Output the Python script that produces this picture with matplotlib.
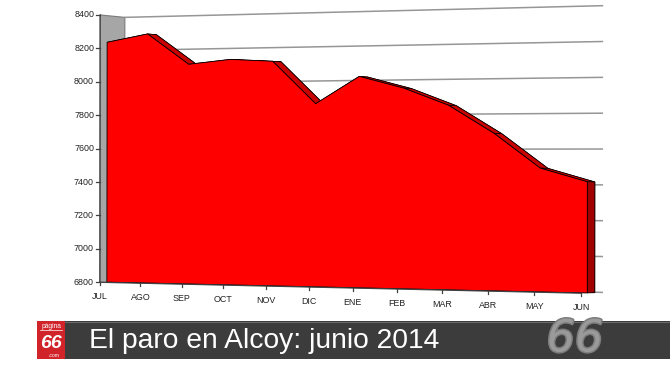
import numpy as np
import matplotlib
matplotlib.use("Agg")
import matplotlib.pyplot as plt
from matplotlib.patches import Polygon, Rectangle
import matplotlib.patheffects as pe

# ---------------- data ----------------
months = ["JUL", "AGO", "SEP", "OCT", "NOV", "DIC",
          "ENE", "FEB", "MAR", "ABR", "MAY", "JUN"]
paro = [8240, 8285, 8100, 8125, 8110, 7860, 8015, 7945, 7845, 7685, 7490, 7415]
value_ticks = [6800, 7000, 7200, 7400, 7600, 7800, 8000, 8200, 8400]
title = "El paro en Alcoy: junio 2014"
logo_top, logo_mid, logo_bot = "página", "66", ".com"
brand = "66"

VMIN, VMAX = value_ticks[0], value_ticks[-1]
N = len(months)

# ------------- 3-D perspective (layout of the chart box) -------------
# unit box: u = category (0..1), v = value (0..1), w = depth (0 front .. 1 back)
box_3d = np.array([[0, 0, 0], [0, 1, 0], [0, 0, 1], [0, 1, 1],
                   [1, 0, 1], [1, 1, 1], [1, 0, 0], [1, 1, 0], [5 / 11, 0, 0]], float)
box_2d = np.array([[100, 281], [100, 15], [125, 283], [125, 17],
                   [602, 292], [602, 5], [582, 293], [582, 4], [308, 287.5]], float)


def fit_camera(p3, p2):
    rows = []
    for (X, Y, Z), (x, y) in zip(p3, p2 / 100.0):
        rows.append([X, Y, Z, 1, 0, 0, 0, 0, -x * X, -x * Y, -x * Z, -x])
        rows.append([0, 0, 0, 0, X, Y, Z, 1, -y * X, -y * Y, -y * Z, -y])
    _, _, vt = np.linalg.svd(np.array(rows))
    return vt[-1].reshape(3, 4)


P = fit_camera(box_3d, box_2d)


def project(u, v, w):
    u, v, w = np.broadcast_arrays(np.asarray(u, float), np.asarray(v, float),
                                  np.asarray(w, float))
    h = P @ np.vstack([u.ravel(), v.ravel(), w.ravel(), np.ones(u.size)])
    return np.column_stack([h[0] / h[2], h[1] / h[2]]) * 100.0


def vnorm(val):
    return (np.asarray(val, float) - VMIN) / (VMAX - VMIN)


WF, WB = 0.28, 0.64   # depth of the series slab

# ---------------- figure ----------------
fig = plt.figure(figsize=(6.7, 3.77), dpi=100)
ax = fig.add_axes([0, 0, 1, 1])
ax.set_xlim(0, 670)
ax.set_ylim(377, 0)
ax.axis("off")
fig.patch.set_facecolor("white")

# left wall
wall = project([0, 0, 0, 0], [0, 1, 1, 0], [0, 0, 1, 1])
ax.add_patch(Polygon(wall, closed=True, fc="#a6a6a6", ec="#7a7a7a", lw=0.8, zorder=1))

# back-wall gridlines
for t in value_ticks:
    g = project([0, 1], [vnorm(t)] * 2, [1, 1])
    ax.plot(g[:, 0], g[:, 1], color="#969696", lw=1.1, zorder=2)

# series slab
us = np.arange(N) / (N - 1)
vs = vnorm(paro)

back = project(np.r_[us, 1, 0], np.r_[vs, 0, 0], WB)
ax.add_patch(Polygon(back, closed=True, fc="#c40000", ec="black", lw=0.6, zorder=3))

for i in range(N - 1):
    q = np.vstack([project(us[i:i + 2], vs[i:i + 2], WF),
                   project(us[i:i + 2][::-1], vs[i:i + 2][::-1], WB)])
    ax.add_patch(Polygon(q, closed=True, fc="#c80000", ec="black", lw=0.5, zorder=4))

side = np.vstack([project([1, 1], [0, vs[-1]], WF), project([1, 1], [vs[-1], 0], WB)])
ax.add_patch(Polygon(side, closed=True, fc="#a00000", ec="black", lw=0.5, zorder=4))

front = project(np.r_[us, 1, 0], np.r_[vs, 0, 0], WF)
ax.add_patch(Polygon(front, closed=True, fc="#ff0000", ec="black", lw=0.6, zorder=5))

# value axis
va = project([0, 0], [0, 1], [0, 0])
ax.plot(va[:, 0], va[:, 1], color="#404040", lw=0.9, zorder=6)
for t in value_ticks:
    p = project(0, vnorm(t), 0)[0]
    ax.plot([p[0] - 4, p[0]], [p[1], p[1]], color="#404040", lw=0.9, zorder=6)
    ax.text(p[0] - 6, p[1], str(t), ha="right", va="center", fontsize=6.4,
            family="Liberation Sans", color="#222222", zorder=7)

# category axis
cu = np.linspace(0, 1, 50)
ca = project(cu, 0, 0)
ax.plot(ca[:, 0], ca[:, 1], color="#404040", lw=0.9, zorder=6)
for i, m in enumerate(months):
    p = project(us[i], 0, 0)[0]
    ax.plot([p[0], p[0]], [p[1], p[1] + 3], color="#404040", lw=0.9, zorder=6)
    ax.text(p[0], p[1] + 14, m, ha="center", va="center", fontsize=6.4,
            family="Liberation Sans", color="#222222", zorder=7)

# ---------------- banner ----------------
ax.add_patch(Rectangle((37, 321), 633, 38, fc="#3c3c3c", ec="none", zorder=8))
ax.plot([37, 670], [321.5, 321.5], color="#6a6a6a", lw=0.8, zorder=9)
ax.add_patch(Rectangle((37, 321), 28, 38, fc="#d1232a", ec="none", zorder=9))
ax.text(51, 326.5, logo_top, ha="center", va="center", fontsize=4.8,
        color="white", family="Liberation Sans", zorder=10)
ax.plot([40, 62], [330, 330], color="white", lw=0.5, zorder=10)
ax.text(50.5, 343, logo_mid, ha="center", va="center", fontsize=14,
        color="white", family="Liberation Sans", weight="bold", style="italic", zorder=10)
ax.text(54, 355.5, logo_bot, ha="center", va="center", fontsize=3.6,
        color="white", family="Liberation Sans", zorder=10)

ax.text(89, 340.5, title, ha="left", va="center", fontsize=20.3,
        color="white", family=["Liberation Sans Narrow", "Liberation Sans"], zorder=10)

ax.text(575, 339, brand, ha="center", va="center", fontsize=32,
        color="#9a9a9a", family="DejaVu Sans", style="italic", zorder=10,
        path_effects=[pe.withStroke(linewidth=2.2, foreground="#7d7d7d")])

fig.savefig("out.png", dpi=100, facecolor="white")
